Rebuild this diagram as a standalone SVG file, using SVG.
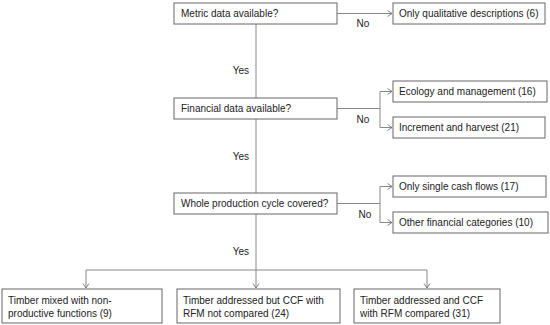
<svg xmlns="http://www.w3.org/2000/svg" width="550" height="325" viewBox="0 0 550 325">
<defs>
<marker id="arr" markerWidth="8" markerHeight="8" refX="5" refY="3.5" orient="auto" markerUnits="userSpaceOnUse">
<path d="M0.5,0.5 L5,3.5 L0.5,6.5" fill="none" stroke="#777" stroke-width="0.9"/>
</marker>
<style>
.box{fill:#fff;stroke:#666;stroke-width:1}
.t{font-family:"Liberation Sans",Arial,sans-serif;font-size:10px;fill:#222}
.c{fill:none;stroke:#888;stroke-width:1}
</style>
</defs>
<rect width="550" height="325" fill="#fff"/>
<g id="connectors">
<path class="c" d="M337,13.5 H392" marker-end="url(#arr)"/>
<path class="c" d="M256,24 V98"/>
<path class="c" d="M337,108.5 H380"/>
<path class="c" d="M380,91.5 V127.5"/>
<path class="c" d="M380,91.5 H392" marker-end="url(#arr)"/>
<path class="c" d="M380,127.5 H392" marker-end="url(#arr)"/>
<path class="c" d="M256,119 V193"/>
<path class="c" d="M337,203.5 H380"/>
<path class="c" d="M380,186.5 V222.5"/>
<path class="c" d="M380,186.5 H392" marker-end="url(#arr)"/>
<path class="c" d="M380,222.5 H392" marker-end="url(#arr)"/>
<path class="c" d="M256,214 V288" marker-end="url(#arr)"/>
<path class="c" d="M86,270 H427"/>
<path class="c" d="M86,270 V288" marker-end="url(#arr)"/>
<path class="c" d="M427,270 V288" marker-end="url(#arr)"/>
<text class="t" x="249" y="74" text-anchor="end">Yes</text>
<text class="t" x="249" y="160" text-anchor="end">Yes</text>
<text class="t" x="249" y="255" text-anchor="end">Yes</text>
<text class="t" x="363" y="27" text-anchor="middle">No</text>
<text class="t" x="363" y="123" text-anchor="middle">No</text>
<text class="t" x="365" y="218" text-anchor="middle">No</text>
</g>
<g id="n-metric"><rect class="box" x="174" y="3" width="163" height="21"/><text class="t" x="181" y="17">Metric data available?</text></g>
<g id="n-qual"><rect class="box" x="393" y="3" width="152" height="21"/><text class="t" x="399" y="17">Only qualitative descriptions (6)</text></g>
<g id="n-fin"><rect class="box" x="174" y="98" width="163" height="21"/><text class="t" x="181" y="112">Financial data available?</text></g>
<g id="n-eco"><rect class="box" x="393" y="81" width="154" height="21"/><text class="t" x="399" y="95">Ecology and management (16)</text></g>
<g id="n-inc"><rect class="box" x="393" y="117" width="152" height="21"/><text class="t" x="399" y="131">Increment and harvest (21)</text></g>
<g id="n-whole"><rect class="box" x="174" y="193" width="163" height="21"/><text class="t" x="181" y="207">Whole production cycle covered?</text></g>
<g id="n-cash"><rect class="box" x="393" y="176" width="153" height="21"/><text class="t" x="399" y="190">Only single cash flows (17)</text></g>
<g id="n-other"><rect class="box" x="393" y="212" width="155" height="21"/><text class="t" x="399" y="226">Other financial categories (10)</text></g>
<g id="n-mixed"><rect class="box" x="2" y="289" width="160" height="34"/><text class="t" x="8" y="303.5">Timber mixed with non-</text><text class="t" x="8" y="316.5">productive functions (9)</text></g>
<g id="n-notcomp"><rect class="box" x="177" y="289" width="163" height="34"/><text class="t" x="183" y="303.5">Timber addressed but CCF with</text><text class="t" x="183" y="316.5">RFM not compared (24)</text></g>
<g id="n-comp"><rect class="box" x="354" y="289" width="146" height="34"/><text class="t" x="360" y="303.5">Timber addressed and CCF</text><text class="t" x="360" y="316.5">with RFM compared (31)</text></g>
</svg>
